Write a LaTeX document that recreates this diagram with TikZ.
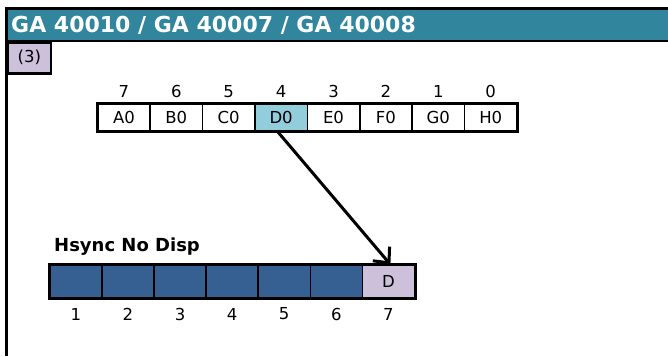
\documentclass[tikz,border=0pt]{standalone}
\usepackage{fontspec}
\setmainfont{DejaVu Sans}
\usetikzlibrary{arrows.meta}
\definecolor{titleteal}{HTML}{31859C}
\definecolor{lilac}{HTML}{CCC0DA}
\definecolor{lightblue}{HTML}{92CDDC}
\definecolor{darkblue}{HTML}{366092}
\tikzset{
  cellbox/.style={draw=black, line width=1.5pt, minimum width=52.3pt, minimum height=26pt, inner sep=0pt, font=\fontsize{16.5}{18}\selectfont, anchor=north west},
  lowcell/.style={draw=black, line width=1.5pt, minimum width=52.1pt, minimum height=32pt, inner sep=0pt, fill=darkblue, font=\fontsize{16.5}{18}\selectfont, anchor=north west},
  numlab/.style={font=\fontsize{16.5}{18}\selectfont, inner sep=0pt},
  linkarrow/.style={line width=3pt, -{Straight Barb[length=12pt,width=22pt,line width=3pt]}},
}
\begin{document}
\begin{tikzpicture}[x=1pt,y=-1pt]
\useasboundingbox (0,0) rectangle (668,356);
% title bar
\fill[titleteal] (6,8) rectangle (668,41);
\draw[line width=2.6pt] (4.7,8.3) -- (668,8.3);
\draw[line width=2.6pt] (6,41) -- (668,41);
\draw[line width=2.6pt] (6.5,7) -- (6.5,356);
\node[anchor=west, text=white, font=\bfseries\fontsize{22}{24}\selectfont, inner sep=0pt] (title) at (11,25) {GA 40010 / GA 40007 / GA 40008};
% (3) box
\node[draw=black, line width=2.6pt, fill=lilac, anchor=north west, minimum width=43pt, minimum height=31pt, inner sep=0pt, font=\fontsize{16.5}{18}\selectfont] (tag) at (6.5,41) {(3)};
% top register
\foreach \t [count=\i from 0] in {A0,B0,C0,D0,E0,F0,G0,H0} {
  \pgfmathsetmacro{\xx}{97+52.4*\i}
  \pgfmathtruncatemacro{\bit}{7-\i}
  \node[cellbox] (top\i) at (\xx,103.5) {\t};
  \node[numlab] (bit\i) at ([yshift=12pt]top\i.north) {\bit};
}
\node[cellbox, fill=lightblue] (d0) at (97+52.4*3,103.5) {D0};
\draw[line width=3pt] (top0.north west) rectangle (top7.south east);
% bottom register
\node[anchor=south west, font=\bfseries\fontsize{18}{20}\selectfont, inner sep=0pt] (hs) at (54,256) {Hsync No Disp};
\foreach \i in {1,...,6} {
  \pgfmathsetmacro{\xx}{49+52.1*(\i-1)}
  \node[lowcell] (low\i) at (\xx,264.5) {};
  \node[numlab] (n\i) at ([yshift=-16pt]low\i.south) {\i};
}
\node[lowcell, fill=lilac] (low7) at (49+52.1*6,264.5) {D};
\node[numlab] (n7) at ([yshift=-16pt]low7.south) {7};
\draw[line width=3pt] (low1.north west) rectangle (low7.south east);
% arrow
\draw[linkarrow] ([xshift=-4pt]d0.south) -- ([xshift=2pt]low7.north);
\end{tikzpicture}
\end{document}
